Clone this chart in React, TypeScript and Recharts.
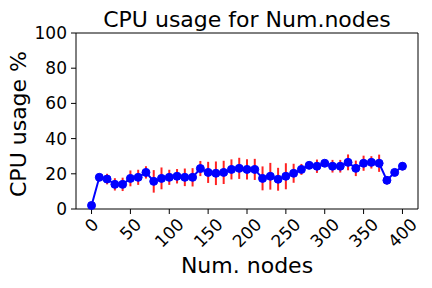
import { LineChart, Line, XAxis, YAxis, ErrorBar, ReferenceLine } from 'recharts';

const nodes = [
  0, 10, 20, 30, 40, 50, 60, 70, 80, 90, 100, 110, 120, 130, 140, 150, 160, 170, 180, 190, 200,
  210, 220, 230, 240, 250, 260, 270, 280, 290, 300, 310, 320, 330, 340, 350, 360, 370, 380, 390, 400,
];
const cpuUsage = [
  2, 18, 17, 14, 14, 17.4, 18, 20.8, 15.7, 17.4, 18, 18.6, 18, 18, 23, 20.8, 20.3, 20.8, 22.5, 23.1, 22.5,
  22.5, 17.4, 18.6, 16.9, 18.6, 20.3, 22.5, 24.8, 24.3, 26, 24.3, 24.3, 26.5, 23.1, 26, 26.5, 26, 16.3, 20.8, 24.3,
];
const cpuStd = [
  0.5, 1.5, 3, 3.5, 3.8, 4.5, 4.3, 3.5, 6.4, 6.2, 4.3, 4.1, 5, 5.2, 4.3, 6, 6.7, 6.6, 5.7, 6, 5.7,
  6, 6.8, 7.6, 6.5, 7.4, 5.4, 3.1, 2.1, 3.8, 1.6, 3.6, 3.6, 4.5, 4.4, 4.3, 3.5, 4.9, 2.3, 2, 2.3,
];
const xTicks = [0, 50, 100, 150, 200, 250, 300, 350, 400];
const yTicks = [0, 20, 40, 60, 80, 100];

const data = nodes.map((n, i) => ({ n, cpu: cpuUsage[i], err: cpuStd[i] }));

const FONT = 'DejaVu Sans, sans-serif';

function XTick(props: any) {
  const { x, y, payload } = props;
  const s = String(payload.value);
  const w = s.length * 0.636 * 17;
  const cy = y - 2 + (w + 21) * 0.3535;
  return (
    <text
      x={x}
      y={cy}
      transform={`rotate(-45 ${x} ${cy})`}
      textAnchor="middle"
      dominantBaseline="central"
      fontSize={17}
      fill="#000"
      fontFamily={FONT}
    >
      {s}
    </text>
  );
}

export default function App() {
  return (
    <div style={{ position: 'absolute', left: 0, top: 0, width: 432, height: 288, background: '#fff', fontFamily: FONT }}>
      <LineChart width={432} height={288} data={data} margin={{ top: 33, right: 14, left: 0, bottom: 0 }}>
        <XAxis
          dataKey="n"
          type="number"
          domain={[-20, 420]}
          ticks={xTicks}
          height={79}
          stroke="#000"
          tickSize={5}
          tick={<XTick />}
          label={{
            content: () => (
              <text x={247} y={273} textAnchor="middle" fontSize={22} fill="#000" fontFamily={FONT}>
                Num. nodes
              </text>
            ),
          }}
        />
        <YAxis
          type="number"
          domain={[0, 100]}
          ticks={yTicks}
          width={76}
          stroke="#000"
          tickSize={5}
          tickMargin={4}
          tick={{ fontSize: 17, fill: '#000', fontFamily: FONT }}
          label={{
            content: () => (
              <text
                x={26}
                y={124}
                transform="rotate(-90 26 124)"
                textAnchor="middle"
                fontSize={22}
                fill="#000"
                fontFamily={FONT}
              >
                CPU usage %
              </text>
            ),
          }}
        />
        <ReferenceLine y={100} stroke="#000" />
        <ReferenceLine x={420} stroke="#000" />
        <Line
          dataKey="cpu"
          stroke="#0000ff"
          strokeWidth={2}
          dot={{ r: 4, fill: '#0000ff', stroke: '#0000ff', strokeWidth: 1 }}
          isAnimationActive={false}
        >
          <ErrorBar dataKey="err" direction="y" width={0} stroke="#ff2222" strokeWidth={2} />
        </Line>
      </LineChart>
      <svg width={432} height={40} style={{ position: 'absolute', left: 0, top: 0, pointerEvents: 'none' }}>
        <text x={247} y={27} textAnchor="middle" fontSize={22} fill="#000" fontFamily={FONT}>
          CPU usage for Num.nodes
        </text>
      </svg>
    </div>
  );
}
